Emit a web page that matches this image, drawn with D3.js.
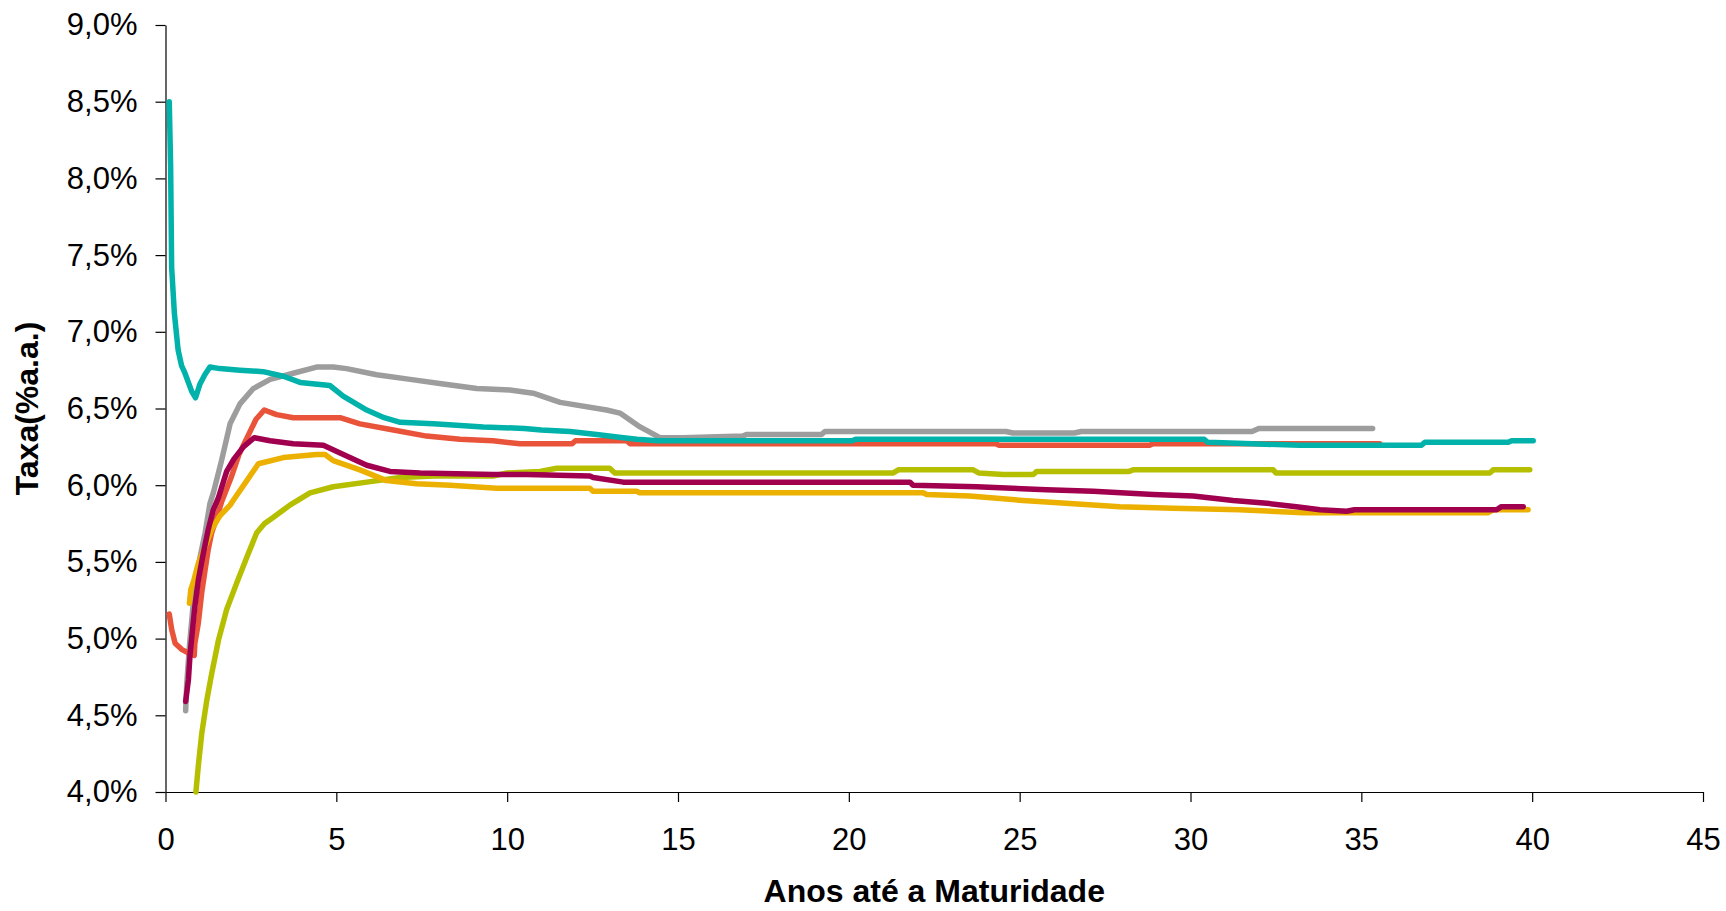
<!DOCTYPE html>
<html>
<head>
<meta charset="utf-8">
<script src="https://cdn.jsdelivr.net/npm/d3@7"></script>
<style>
  html, body { margin: 0; padding: 0; background: #fff; }
  svg { display: block; }
  text { font-family: "Liberation Sans", Arial, sans-serif; fill: #000; }
</style>
</head>
<body>
<svg id="chart" width="1726" height="911"></svg>
<script>
// ---- data (x: anos até a maturidade, y: taxa % a.a.) ----
const xTicks = [0, 5, 10, 15, 20, 25, 30, 35, 40, 45];
const yTicks = [4.0, 4.5, 5.0, 5.5, 6.0, 6.5, 7.0, 7.5, 8.0, 8.5, 9.0];
const xTitle = "Anos até a Maturidade";
const yTitle = "Taxa(%a.a.)";

const serieOliva = [[0.89,4.00],[0.96,4.17],[1.06,4.38],[1.21,4.60],[1.35,4.77],[1.55,4.99],[1.79,5.19],[2.08,5.36],[2.38,5.53],[2.67,5.69],[2.90,5.75],[3.15,5.79],[3.64,5.87],[4.23,5.95],[4.91,5.99],[5.89,6.02],[6.87,6.05],[7.84,6.06],[9.59,6.06],[10.0,6.08],[10.96,6.09],[11.45,6.11],[13.0,6.11],[13.15,6.08],[21.3,6.08],[21.45,6.10],[23.64,6.10],[23.8,6.08],[24.52,6.07],[25.4,6.07],[25.5,6.09],[28.2,6.09],[28.32,6.10],[32.42,6.10],[32.5,6.08],[38.76,6.08],[38.86,6.10],[39.93,6.10]];

const serieCinza = [[0.59,4.53],[0.62,4.70],[0.70,4.95],[0.80,5.20],[0.92,5.42],[1.01,5.53],[1.16,5.69],[1.30,5.88],[1.40,5.95],[1.64,6.16],[1.89,6.40],[2.18,6.53],[2.57,6.63],[3.06,6.69],[3.74,6.73],[4.42,6.77],[4.91,6.77],[5.30,6.76],[6.18,6.72],[7.16,6.69],[8.13,6.66],[9.11,6.63],[10.08,6.62],[10.76,6.60],[11.55,6.54],[12.91,6.49],[13.30,6.47],[13.89,6.38],[14.47,6.31],[15.15,6.31],[16.9,6.32],[17.0,6.33],[19.2,6.33],[19.3,6.35],[24.6,6.35],[24.8,6.34],[26.6,6.34],[26.8,6.35],[31.8,6.35],[32.0,6.37],[35.33,6.37]];

const serieVermelha = [[0.11,5.16],[0.18,5.06],[0.28,4.97],[0.47,4.93],[0.72,4.90],[0.84,4.89],[0.86,4.97],[0.96,5.10],[1.06,5.30],[1.16,5.45],[1.25,5.58],[1.35,5.69],[1.50,5.79],[1.64,5.89],[1.92,6.05],[2.15,6.20],[2.41,6.32],[2.65,6.43],[2.89,6.49],[3.25,6.46],[3.74,6.44],[5.11,6.44],[5.69,6.40],[6.67,6.36],[7.64,6.32],[8.62,6.30],[9.59,6.29],[10.37,6.27],[11.9,6.27],[12.0,6.29],[13.5,6.29],[13.6,6.27],[24.3,6.27],[24.4,6.26],[28.8,6.26],[28.9,6.27],[35.54,6.27]];

const serieTurquesa = [[0.11,8.50],[0.15,8.08],[0.18,7.42],[0.26,7.12],[0.37,6.88],[0.47,6.78],[0.57,6.73],[0.77,6.61],[0.88,6.57],[1.01,6.66],[1.15,6.72],[1.30,6.77],[1.59,6.76],[2.18,6.75],[2.86,6.74],[3.45,6.71],[3.94,6.67],[4.81,6.65],[5.20,6.58],[5.89,6.49],[6.40,6.44],[6.87,6.41],[7.84,6.40],[9.30,6.38],[10.5,6.37],[11.0,6.36],[11.84,6.35],[12.62,6.33],[13.40,6.31],[13.8,6.30],[14.4,6.29],[20.1,6.29],[20.2,6.30],[30.4,6.30],[30.5,6.28],[31.8,6.27],[33.2,6.26],[36.76,6.26],[36.86,6.28],[39.3,6.28],[39.4,6.29],[40.03,6.29]];

const serieAmarela = [[0.70,5.23],[0.74,5.32],[0.83,5.38],[0.96,5.49],[1.16,5.60],[1.35,5.71],[1.59,5.80],[1.89,5.87],[1.98,5.90],[2.38,6.03],[2.72,6.14],[3.45,6.18],[4.42,6.20],[4.67,6.20],[4.91,6.16],[5.69,6.10],[6.47,6.03],[7.35,6.01],[8.33,6.00],[9.69,5.98],[12.42,5.98],[12.52,5.96],[13.79,5.96],[13.89,5.95],[22.18,5.95],[22.28,5.94],[23.54,5.93],[25.1,5.90],[26.47,5.88],[27.93,5.86],[29.49,5.85],[31.44,5.84],[33.30,5.82],[38.7,5.82],[38.86,5.84],[39.88,5.84]];

const serieVinho = [[0.59,4.59],[0.67,4.73],[0.72,4.90],[0.80,5.08],[0.86,5.21],[0.96,5.38],[1.11,5.56],[1.25,5.71],[1.40,5.84],[1.55,5.92],[1.79,6.09],[2.00,6.17],[2.28,6.25],[2.60,6.31],[3.06,6.29],[3.74,6.27],[4.62,6.26],[5.11,6.21],[5.89,6.13],[6.57,6.09],[7.45,6.08],[9.59,6.07],[10.57,6.07],[12.42,6.06],[12.52,6.05],[13.40,6.02],[21.79,6.02],[21.88,6.00],[23.74,5.99],[25.79,5.97],[27.15,5.96],[28.91,5.94],[30.08,5.93],[31.25,5.90],[32.32,5.88],[33.1,5.86],[33.79,5.84],[34.57,5.83],[34.8,5.84],[38.96,5.84],[39.1,5.86],[39.74,5.86]];

const seriesList = [serieOliva, serieCinza, serieVermelha, serieTurquesa, serieAmarela, serieVinho];
const seriesColors = ["#B5BF00", "#9D9D9D", "#E8533A", "#00B2AA", "#EBB000", "#A0004E"];

// ---- drawing ----
const svg = d3.select("#chart");
const x = d3.scaleLinear().domain([0, 45]).range([165.5, 1703]);
const y = d3.scaleLinear().domain([4, 9]).range([792, 25]);

const fmtY = d => d.toFixed(1).replace(".", ",") + "%";

const xAxis = svg.append("g")
  .attr("transform", "translate(0,792)")
  .call(d3.axisBottom(x).tickValues(xTicks).tickFormat(d3.format("d")).tickSize(10).tickSizeOuter(0).tickPadding(26));
const yAxis = svg.append("g")
  .attr("transform", "translate(165.5,0)")
  .call(d3.axisLeft(y).tickValues(yTicks).tickFormat(fmtY).tickSize(10).tickSizeOuter(0).tickPadding(18));

[xAxis, yAxis].forEach(g => {
  g.select(".domain").attr("stroke", "#000").attr("stroke-width", 1.2);
  g.selectAll(".tick line").attr("stroke", "#000").attr("stroke-width", 1.2);
  g.selectAll(".tick text").attr("font-size", 31).attr("fill", "#000")
    .style("font-family", "'Liberation Sans', Arial, sans-serif");
});

const line = d3.line().x(d => x(d[0])).y(d => y(d[1])).curve(d3.curveLinear);

svg.append("g").selectAll("path")
  .data(seriesList)
  .join("path")
  .attr("d", line)
  .attr("fill", "none")
  .attr("stroke", (d, i) => seriesColors[i])
  .attr("stroke-width", 5.5)
  .attr("stroke-linejoin", "round")
  .attr("stroke-linecap", "round");

svg.append("text")
  .attr("x", (x.range()[0] + x.range()[1]) / 2)
  .attr("y", 902)
  .attr("text-anchor", "middle")
  .attr("font-size", 32)
  .attr("font-weight", "bold")
  .text(xTitle);

svg.append("text")
  .attr("transform", `translate(38,${(y.range()[0] + y.range()[1]) / 2}) rotate(-90)`)
  .attr("text-anchor", "middle")
  .attr("font-size", 32)
  .attr("font-weight", "bold")
  .text(yTitle);
</script>
</body>
</html>
